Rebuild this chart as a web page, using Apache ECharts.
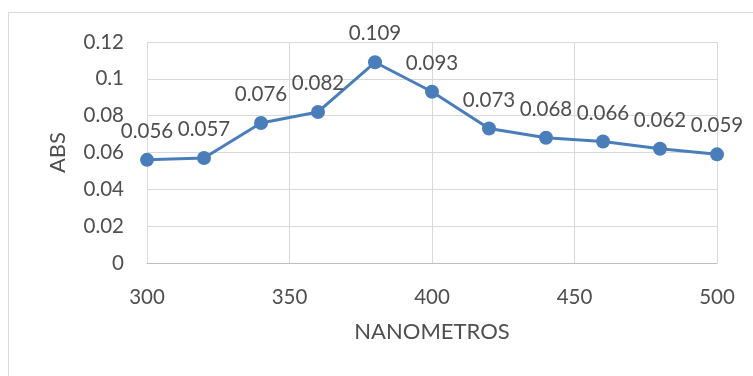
<!DOCTYPE html>
<html>
<head>
<meta charset="utf-8">
<script src="https://cdn.jsdelivr.net/npm/echarts@6/dist/echarts.min.js"></script>
<style>
  html, body { margin: 0; padding: 0; background: #fff; }
  #chart { width: 753px; height: 376px; }
</style>
</head>
<body>
<div id="chart"></div>
<script>
// Wavelength (nm) and absorbance readings
const wavelengths = [300, 320, 340, 360, 380, 400, 420, 440, 460, 480, 500];
const absorbance = [0.056, 0.057, 0.076, 0.082, 0.109, 0.093, 0.073, 0.068, 0.066, 0.062, 0.059];
const yTicks = [0, 0.02, 0.04, 0.06, 0.08, 0.1, 0.12];
const xTicks = [300, 350, 400, 450, 500];

const FONT = 'Lato';
const TEXT = '#4f4f4f';
const GRID = '#d9d9d9';

const chart = echarts.init(document.getElementById('chart'), null, { renderer: 'canvas' });

chart.setOption({
  backgroundColor: '#fff',
  animation: false,
  graphic: [{
    type: 'rect',
    shape: { x: 8.5, y: 12.5, width: 900, height: 500 },
    style: { fill: 'none', stroke: GRID, lineWidth: 1 },
    silent: true,
    z: -10
  }],
  grid: { left: 147, top: 42, width: 570, height: 221, containLabel: false },
  xAxis: {
    type: 'value',
    min: xTicks[0],
    max: xTicks[xTicks.length - 1],
    interval: xTicks[1] - xTicks[0],
    name: 'NANOMETROS',
    nameLocation: 'middle',
    nameGap: 58,
    nameTextStyle: { color: TEXT, fontFamily: FONT, fontSize: 22 },
    axisLine: { show: true, lineStyle: { color: '#bfbfbf', width: 1 } },
    axisTick: { show: false },
    axisLabel: { color: TEXT, fontFamily: FONT, fontSize: 20.5, margin: 24 },
    splitLine: { show: true, lineStyle: { color: GRID, width: 1 } }
  },
  yAxis: {
    type: 'value',
    min: yTicks[0],
    max: yTicks[yTicks.length - 1],
    interval: 0.02,
    name: 'ABS',
    nameLocation: 'middle',
    nameGap: 78,
    nameTextStyle: { color: TEXT, fontFamily: FONT, fontSize: 22 },
    axisLine: { show: false },
    axisTick: { show: false },
    axisLabel: {
      color: TEXT, fontFamily: FONT, fontSize: 20.5, margin: 23,
      formatter: v => String(+v.toFixed(2))
    },
    splitLine: { show: true, lineStyle: { color: GRID, width: 1 } }
  },
  series: [{
    type: 'line',
    data: wavelengths.map((w, i) => [w, absorbance[i]]),
    symbol: 'circle',
    symbolSize: 14,
    lineStyle: { color: '#4a7ebb', width: 3 },
    itemStyle: { color: '#4a7ebb' },
    label: {
      show: true,
      position: 'top',
      distance: 11,
      color: TEXT,
      fontFamily: FONT,
      fontSize: 20.5,
      formatter: p => String(p.value[1])
    }
  }]
});
</script>
</body>
</html>
